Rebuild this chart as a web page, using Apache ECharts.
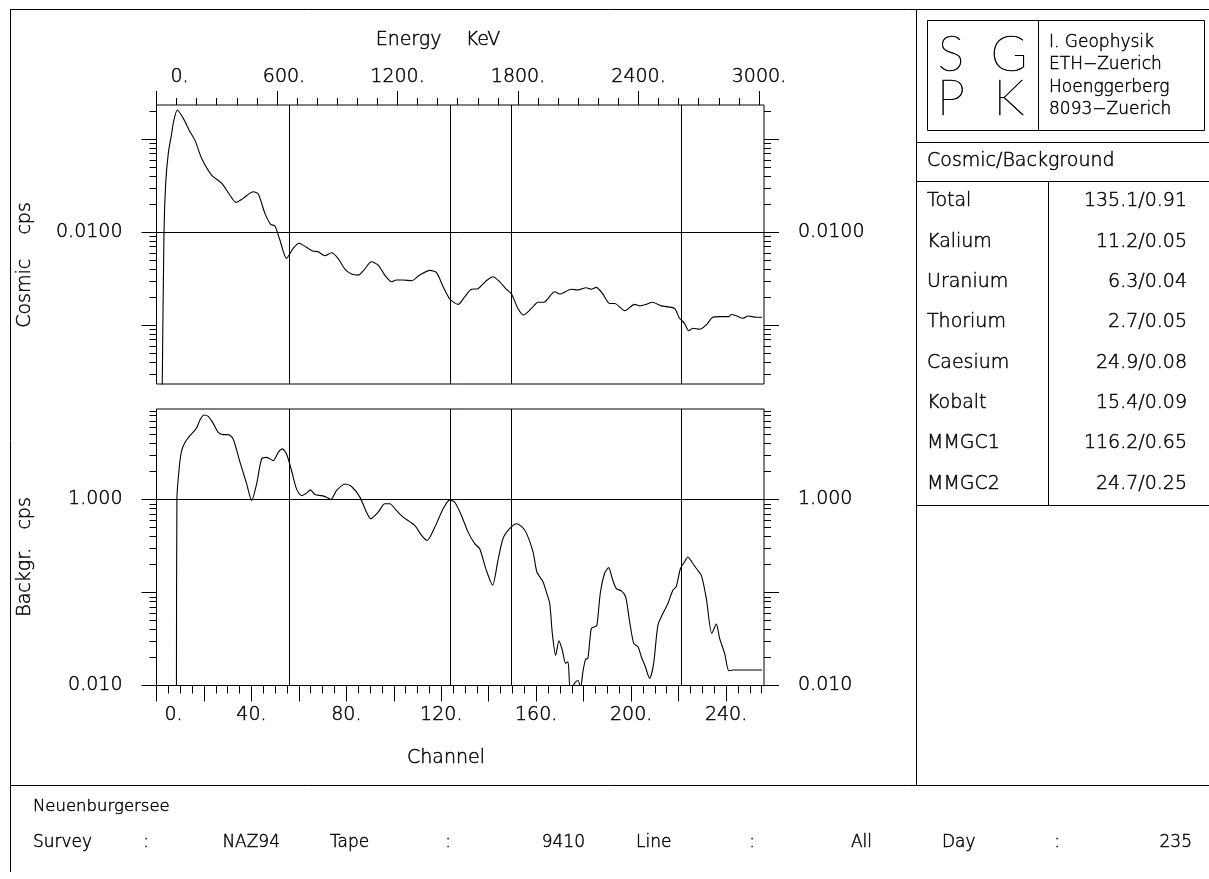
<!DOCTYPE html>
<html>
<head>
<meta charset="utf-8">
<script src="https://cdn.jsdelivr.net/npm/echarts@6/dist/echarts.min.js"></script>
<style>
  html, body { margin: 0; padding: 0; background: #fff; }
  #chart { width: 1209px; height: 879px; }
</style>
</head>
<body>
<div id="chart"></div>
<script>
// Cosmic spectrum, [channel, cps]
const cosmicSpectrum = [
  [2.4, 0.0002], [3.16, 0.0100], [3.87, 0.0336], [4.97, 0.0707], [6.4, 0.116], [7.07, 0.149],
  [8.76, 0.207], [11.3, 0.168], [14.1, 0.121], [16.2, 0.098], [19.0, 0.0625], [23.2, 0.0413],
  [27.5, 0.0336], [30.9, 0.0252], [33.5, 0.0210], [36.5, 0.0232], [40.8, 0.0273], [42.9, 0.0258],
  [45.7, 0.0160], [48.1, 0.0122], [49.9, 0.0117], [52.0, 0.00826], [54.8, 0.00525], [57.6, 0.00673],
  [60.1, 0.00762], [63.2, 0.00690], [65.8, 0.00629], [68.1, 0.00618], [70.9, 0.00560], [73.8, 0.00604],
  [76.5, 0.00525], [79.4, 0.00403], [82.2, 0.00356], [85.0, 0.00347], [87.4, 0.00393], [90.6, 0.00483],
  [93.4, 0.00445], [96.2, 0.00347], [99.0, 0.00294], [101.1, 0.00307], [103.9, 0.00307], [107.5, 0.00302],
  [110.9, 0.00347], [115.2, 0.00390], [118.0, 0.00368], [120.8, 0.00260], [123.6, 0.00192], [127.1, 0.00168],
  [129.9, 0.00203], [132.7, 0.00244], [135.5, 0.00248], [139.0, 0.00302], [141.8, 0.00333], [144.6, 0.00294],
  [147.5, 0.00244], [149.6, 0.00217], [152.3, 0.00152], [154.7, 0.00129], [158.0, 0.00152], [160.8, 0.00177],
  [163.2, 0.00177], [167.8, 0.00230], [169.9, 0.00217], [174.8, 0.00244], [177.6, 0.00240], [181.1, 0.00254],
  [183.2, 0.00244], [185.3, 0.00256], [188.1, 0.00217], [190.9, 0.00172], [193.1, 0.00172], [197.3, 0.00144],
  [201.5, 0.00168], [203.6, 0.00162], [206.4, 0.00168], [208.9, 0.00177], [212.7, 0.00162], [218.3, 0.00152],
  [220.4, 0.00119], [222.5, 0.00105], [224.3, 0.000875], [226.0, 0.000929], [228.8, 0.000906], [231.7, 0.00101],
  [234.4, 0.00122], [237.3, 0.00124], [241.2, 0.00124], [242.2, 0.00131], [244.3, 0.00127], [247.1, 0.00119],
  [249.2, 0.00126], [252.7, 0.00122], [255.2, 0.00122]
];

// Background spectrum, [channel, cps]
const backgroundSpectrum = [
  [8.4, 0.005], [8.6, 1.0], [9.6, 2.22], [10.6, 3.35], [12.0, 4.11], [14.1, 4.86], [16.9, 5.87],
  [18.3, 7.16], [20.0, 8.10], [21.8, 7.82], [23.9, 6.58], [26.0, 5.27], [28.1, 4.98], [30.2, 4.98],
  [32.3, 4.48], [35.2, 2.51], [38.0, 1.47], [40.1, 0.976], [42.2, 1.47], [44.3, 2.73], [46.4, 2.84],
  [49.2, 2.62], [51.3, 3.21], [53.0, 3.50], [54.8, 3.09], [56.9, 2.05], [59.0, 1.30], [61.1, 1.10],
  [63.2, 1.17], [64.9, 1.27], [66.7, 1.13], [69.6, 1.10], [71.7, 1.06], [73.5, 1.00], [75.9, 1.25],
  [79.4, 1.47], [82.2, 1.38], [85.7, 1.06], [88.5, 0.731], [90.3, 0.621], [93.4, 0.731], [96.2, 0.899],
  [98.3, 0.899], [101.1, 0.762], [103.9, 0.646], [108.8, 0.526], [111.7, 0.411], [114.0, 0.363],
  [117.3, 0.505], [120.8, 0.795], [123.6, 0.99], [125.7, 0.935], [128.5, 0.674], [131.3, 0.446],
  [134.1, 0.335], [136.2, 0.296], [139.0, 0.173], [141.6, 0.120], [143.9, 0.222], [146.0, 0.379],
  [148.8, 0.485], [151.7, 0.549], [153.8, 0.513], [155.9, 0.435], [158.7, 0.272], [160.3, 0.166],
  [162.9, 0.130], [164.3, 0.101], [165.7, 0.0762], [166.8, 0.0363], [168.2, 0.0212], [169.6, 0.0302],
  [171.0, 0.0240], [172.4, 0.0173], [173.4, 0.0180], [174.4, 0.0088], [176.2, 0.0106], [177.6, 0.0113],
  [178.7, 0.0095], [179.7, 0.0141], [180.8, 0.0191], [181.8, 0.0196], [183.2, 0.0410], [184.6, 0.0427],
  [185.6, 0.0446], [187.0, 0.0975], [188.8, 0.160], [190.5, 0.185], [192.3, 0.135], [193.8, 0.110],
  [195.9, 0.104], [197.7, 0.0896], [199.4, 0.0483], [201.1, 0.0284], [202.9, 0.0261], [204.3, 0.0204],
  [206.0, 0.0159], [207.8, 0.0119], [209.5, 0.0173], [211.3, 0.0446], [213.4, 0.0594], [215.5, 0.0762],
  [217.6, 0.106], [219.0, 0.115], [220.8, 0.181], [222.5, 0.213], [223.9, 0.241], [225.6, 0.213],
  [227.5, 0.181], [229.6, 0.153], [231.7, 0.0861], [234.0, 0.0363], [235.9, 0.0457], [237.3, 0.0321],
  [239.4, 0.0221], [241.2, 0.0144], [242.9, 0.0147], [255.2, 0.0147]
];

// Reference lines: Cs-137, K-40, Bi-214, Tl-208 (keV)
const peakEnergies = [662, 1461, 1765, 2614];
const cosmicRefLevel = 0.01;
const backgroundRefLevel = 1.0;

// Axis ranges
const channelRange = [0, 256];
const energyRange = [0, 3025];
const cosmicRange = [0.000234, 0.234];
const backgroundRange = [0.01, 9.4];

// Tick labels
const energyLabels = [0, 600, 1200, 1800, 2400, 3000];
const channelLabels = [0, 40, 80, 120, 160, 200, 240];
const cosmicLabels = [0.01];
const backgroundLabels = [1, 0.01];

// Side table
const tableTitle = 'Cosmic/Background';
const tableNames = ['Total', 'Kalium', 'Uranium', 'Thorium', 'Caesium', 'Kobalt', 'MMGC1', 'MMGC2'];
const tableValues = ['135.1/0.91', '11.2/0.05', '6.3/0.04', '2.7/0.05', '24.9/0.08', '15.4/0.09', '116.2/0.65', '24.7/0.25'];
const instituteLines = ['I. Geophysik', 'ETH\u2212Zuerich', 'Hoenggerberg', '8093\u2212Zuerich'];
const logoLetters = [['S', 'G'], ['P', 'K']];

// Footer
const siteName = 'Neuenburgersee';
const footerNames = ['Survey', 'Tape', 'Line', 'Day'];
const footerValues = ['NAZ94', '9410', 'All', '235'];

// ---------- helpers ----------
const FONT = 'DejaVu Sans';
const INK = '#000';

function range(a, b, step) {
  const out = [];
  for (let v = a; v <= b + 1e-9; v += step) out.push(v);
  return out;
}
// decade ticks of a log axis: majors at 10^e, minors at k*10^e
function logTicks(e0, e1) {
  const major = [], minor = [];
  for (let e = e0; e <= e1; e++) {
    const b = Math.pow(10, e);
    major.push(+b.toPrecision(3));
    for (let k = 2; k <= 9; k++) minor.push(+(k * b).toPrecision(3));
  }
  return { major, minor };
}
const cosmicTicks = logTicks(-4, -1);
const backgroundTicks = logTicks(-2, 0);

const tickLine = { color: INK, width: 1 };
const labelText = {
  fontFamily: FONT, fontSize: 19, fontWeight: 200, color: INK,
  textBorderColor: INK, textBorderWidth: 0.45
};

function yAxes(gridIndex, position, rng, ticks, labels, fmt) {
  const base = {
    type: 'log', logBase: 10, gridIndex, position, min: rng[0], max: rng[1],
    axisLine: { show: false, onZero: false }, splitLine: { show: false }
  };
  return [
    Object.assign({}, base, {
      axisTick: { show: true, inside: false, length: 7, customValues: ticks.minor, lineStyle: tickLine },
      axisLabel: { show: false }
    }),
    Object.assign({}, base, {
      axisTick: { show: true, inside: false, length: 15, customValues: ticks.major, lineStyle: tickLine },
      axisLabel: Object.assign({ show: true, customValues: labels, formatter: fmt, margin: 34 }, labelText)
    })
  ];
}

function text(x, y, str, opts) {
  opts = opts || {};
  const align = opts.align || 'left';
  return {
    type: 'text', x, y, rotation: opts.rotation || 0, silent: true,
    style: {
      text: str, fill: INK, fontFamily: opts.family || FONT, fontSize: opts.size || 19,
      fontWeight: opts.weight || 200,
      stroke: INK, lineWidth: opts.stroke == null ? 0.45 : opts.stroke,
      align, textAlign: align, verticalAlign: 'middle', textVerticalAlign: 'middle'
    }
  };
}
function seg(x1, y1, x2, y2) {
  return { type: 'line', silent: true, shape: { x1, y1, x2, y2 }, style: { stroke: INK, lineWidth: 1 } };
}

// ---------- decorations: frame, side table, footer ----------
const graphics = [
  seg(10, 9.5, 1209, 9.5),
  seg(10.5, 9, 10.5, 872),
  seg(916.5, 9, 916.5, 785),
  seg(10, 785.5, 1209, 785.5),
  // logo box
  { type: 'rect', silent: true, shape: { x: 927.5, y: 20.5, width: 277, height: 110 },
    style: { fill: 'none', stroke: INK, lineWidth: 1 } },
  seg(1038.5, 20, 1038.5, 131),
  seg(916, 142.5, 1209, 142.5),
  seg(916, 181.5, 1209, 181.5),
  seg(1048.5, 181, 1048.5, 505),
  seg(916, 505.5, 1209, 505.5),
  text(927, 161, tableTitle),
  text(438, 40, 'Energy    KeV', { align: 'center' }),
  text(446, 758, 'Channel', { align: 'center' }),
  text(25, 265, 'Cosmic    cps', { align: 'center', rotation: Math.PI / 2 }),
  text(25, 557, 'Backgr.   cps', { align: 'center', rotation: Math.PI / 2 }),
  text(33, 807, siteName, { size: 16.5 })
];
logoLetters.forEach((row, r) => row.forEach((ch, c) => {
  graphics.push(text(951 + c * 58, 55 + r * 44, ch,
    { align: 'center', size: 50, family: 'Lato', weight: 100, stroke: 0.6 }));
}));
instituteLines.forEach((s, i) => graphics.push(text(1049, 42.5 + i * 22.3, s, { size: 17 })));
tableNames.forEach((s, i) => {
  graphics.push(text(927, 201.5 + i * 40.3, s));
  graphics.push(text(1187, 201.5 + i * 40.3, tableValues[i], { align: 'right' }));
});
// footer columns: name, colon, right edge of value
const footerNameX = [33, 330, 636, 942];
const footerColonX = [146, 448, 752, 1057];
const footerValueX = [280, 585, 872, 1192];
footerNames.forEach((s, i) => {
  graphics.push(text(footerNameX[i], 843, s, { size: 17 }));
  graphics.push(text(footerColonX[i], 843, ':', { size: 17, align: 'center' }));
  graphics.push(text(footerValueX[i], 843, footerValues[i], { size: 17, align: 'right' }));
});

// ---------- axes ----------
const energyMinor = range(0, 3000, 100);
const energyMajor = range(0, 3000, 600);
const channelMinor = range(0, 255, 5);
const channelMajor = range(0, 240, 20);

const xAxis = [
  // upper panel: channel scale for the data (hidden)
  { type: 'value', gridIndex: 0, min: channelRange[0], max: channelRange[1], show: false },
  // upper panel: energy scale along the top
  { type: 'value', gridIndex: 0, position: 'top', min: energyRange[0], max: energyRange[1],
    axisLine: { show: false, onZero: false }, splitLine: { show: false },
    axisTick: { length: 7, customValues: energyMinor, lineStyle: tickLine }, axisLabel: { show: false } },
  { type: 'value', gridIndex: 0, position: 'top', min: energyRange[0], max: energyRange[1],
    axisLine: { show: false, onZero: false }, splitLine: { show: false },
    axisTick: { length: 14, customValues: energyMajor, lineStyle: tickLine },
    axisLabel: Object.assign({
      customValues: energyLabels, margin: 18,
      formatter: v => v === 0 ? '{z|0.}' : (v === 600 ? '{s|600.}' : v + '.'),
      rich: { z: { padding: [0, 0, 0, 46] }, s: { padding: [0, 0, 0, 14] } }
    }, labelText) },
  // lower panel: channel scale along the bottom
  { type: 'value', gridIndex: 1, position: 'bottom', min: channelRange[0], max: channelRange[1],
    axisLine: { show: false, onZero: false }, splitLine: { show: false },
    axisTick: { length: 8, customValues: channelMinor, lineStyle: tickLine }, axisLabel: { show: false } },
  { type: 'value', gridIndex: 1, position: 'bottom', min: channelRange[0], max: channelRange[1],
    axisLine: { show: false, onZero: false }, splitLine: { show: false },
    axisTick: { length: 16, customValues: channelMajor, lineStyle: tickLine },
    axisLabel: Object.assign({
      customValues: channelLabels, margin: 20,
      formatter: v => v === 0 ? '{z|0.}' : v + '.',
      rich: { z: { padding: [0, 0, 0, 34] } }
    }, labelText) },
  // lower panel: energy scale for the reference lines (hidden)
  { type: 'value', gridIndex: 1, min: energyRange[0], max: energyRange[1], show: false }
];

const fmt4 = v => Number(v).toFixed(4);
const fmt3 = v => Number(v).toFixed(3);
const yAxis = [].concat(
  yAxes(0, 'left', cosmicRange, cosmicTicks, cosmicLabels, fmt4),
  yAxes(0, 'right', cosmicRange, cosmicTicks, cosmicLabels, fmt4),
  yAxes(1, 'left', backgroundRange, backgroundTicks, backgroundLabels, fmt3),
  yAxes(1, 'right', backgroundRange, backgroundTicks, backgroundLabels, fmt3)
);

function refLines(xAxisIndex, yAxisIndex, level) {
  return {
    type: 'line', xAxisIndex, yAxisIndex, data: [], silent: true,
    markLine: {
      silent: true, symbol: ['none', 'none'], animation: false,
      label: { show: false },
      lineStyle: { color: INK, width: 1, type: 'solid' },
      emphasis: { disabled: true },
      data: peakEnergies.map(e => ({ xAxis: e })).concat([{ yAxis: level }])
    }
  };
}

const curveStyle = { color: INK, width: 1.1 };
const option = {
  animation: false,
  backgroundColor: '#fff',
  grid: [
    { left: 156.5, top: 105, width: 607.5, height: 279, show: true, borderColor: INK, borderWidth: 1,
      containLabel: false, outerBoundsMode: 'none' },
    { left: 156.5, top: 409, width: 607.5, height: 276.5, show: true, borderColor: INK, borderWidth: 1,
      containLabel: false, outerBoundsMode: 'none' }
  ],
  xAxis,
  yAxis,
  series: [
    refLines(1, 0, cosmicRefLevel),
    refLines(5, 4, backgroundRefLevel),
    { name: 'Cosmic', type: 'line', xAxisIndex: 0, yAxisIndex: 0, data: cosmicSpectrum,
      showSymbol: false, symbol: 'none', smooth: 0.25, clip: true, lineStyle: curveStyle, silent: true },
    { name: 'Background', type: 'line', xAxisIndex: 3, yAxisIndex: 4, data: backgroundSpectrum,
      showSymbol: false, symbol: 'none', smooth: 0.25, clip: true, lineStyle: curveStyle, silent: true }
  ],
  graphic: { elements: graphics }
};

const chart = echarts.init(document.getElementById('chart'), null, { renderer: 'canvas' });
chart.setOption(option);
</script>
</body>
</html>
